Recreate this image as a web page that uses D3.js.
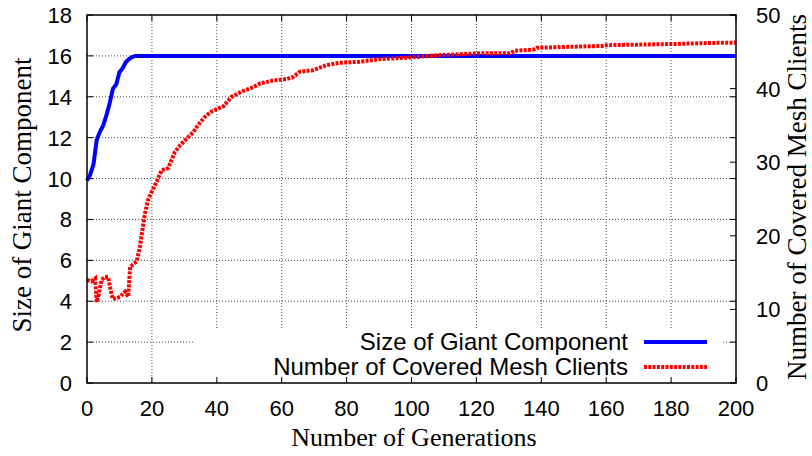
<!DOCTYPE html>
<html lang="en">
<head>
  <meta charset="UTF-8">
  <title>Giant Component vs Generations</title>
  <style>
    body { margin: 0; background: #fff; }
    svg { display: block; }
    .tick-label { font-family: 'Liberation Sans', Arial, sans-serif; font-size: 22px; fill: #000; }
    .axis-title { font-family: 'Liberation Serif', 'Times New Roman', serif; font-size: 27px; fill: #000; }
    .legend-text { font-family: 'Liberation Sans', Arial, sans-serif; font-size: 24px; fill: #000; }
    .grid line { stroke: #000; stroke-width: 1; stroke-dasharray: 1,2; opacity: 0.7; }
  </style>
</head>
<body>
<svg width="812" height="456"></svg>
<script src="https://cdn.jsdelivr.net/npm/d3@7"></script>
<script>

  // generation / value pairs
  var giantGen = [0, 1, 2, 3, 4, 5, 6, 7, 8, 9, 10, 11, 12, 13, 14, 15, 200];
  var giantSize = [9.9, 10.2, 10.7, 11.9, 12.3, 12.6, 13.1, 13.7, 14.4, 14.6, 15.2, 15.4, 15.7, 15.85, 15.95, 16, 16];

  var clientGen = [0, 1.4, 2.5, 3, 3.6, 4.5, 5.5, 6.5, 7.6, 8, 10.2, 11.7, 12.7, 13.3, 15.3, 16.3, 16.9, 17.9, 18.9,
    21.5, 23, 25, 27.1, 28.7, 30.7, 32.8, 34.3, 36.4, 38.4, 42, 44.6, 48.2, 51.3, 53.3, 57.4, 61.5, 63.6, 65.6,
    69.7, 73.9, 78, 84, 90.3, 100.6, 106.7, 116, 121, 130.3, 131.9, 137.6, 138.6, 159, 160.2, 179.7, 192, 200];
  var coveredClients = [14.0, 13.8, 14.2, 11.0, 12.0, 14.0, 14.4, 14.4, 12.0, 11.4, 11.7, 12.4, 11.7, 15.8, 16.5, 18.5, 20.3, 23.1, 25.0,
    27.4, 28.9, 29.2, 31.4, 32.3, 33.2, 34.1, 35.1, 36.2, 36.9, 37.6, 38.9, 39.7, 40.2, 40.7, 41.1, 41.3, 41.6, 42.3,
    42.5, 43.2, 43.5, 43.65, 44.0, 44.25, 44.5, 44.7, 44.8, 44.8, 45.15, 45.3, 45.55, 45.8, 45.9, 46.05, 46.2, 46.25];

  var xTicks = [0, 20, 40, 60, 80, 100, 120, 140, 160, 180, 200];
  var yTicks = [0, 2, 4, 6, 8, 10, 12, 14, 16, 18];
  var y2Ticks = [0, 10, 20, 30, 40, 50];

  var seriesNames = ["Size of Giant Component", "Number of Covered Mesh Clients"];
  var seriesColors = ["#0000ff", "#ff0000"];

  var LEFT = 87, RIGHT = 736, TOP = 15, BOTTOM = 383;
  var TICK = 6;

  var svg = d3.select("svg");

  var x = d3.scaleLinear().domain([0, 200]).range([LEFT, RIGHT]);
  var y = d3.scaleLinear().domain([0, 18]).range([BOTTOM, TOP]);
  var y2 = d3.scaleLinear().domain([0, 50]).range([BOTTOM, TOP]);

  // grid
  var grid = svg.append("g").classed("grid", true);
  grid.selectAll("line.v").data(xTicks.slice(1, -1)).enter().append("line")
    .attr("x1", function (d) { return x(d); })
    .attr("x2", function (d) { return x(d); })
    .attr("y1", TOP)
    .attr("y2", BOTTOM);
  grid.selectAll("line.h").data(yTicks.slice(1, -1)).enter().append("line")
    .attr("x1", LEFT)
    .attr("x2", RIGHT)
    .attr("y1", function (d) { return y(d); })
    .attr("y2", function (d) { return y(d); });

  // legend box hides the grid behind it
  svg.append("rect")
    .attr("x", 193).attr("y", 330)
    .attr("width", 529).attr("height", BOTTOM - 330)
    .attr("fill", "#fff");

  // ticks (inward, all sides)
  var ticks = svg.append("g").attr("stroke", "#000").attr("stroke-width", 1);
  xTicks.forEach(function (d) {
    ticks.append("line").attr("x1", x(d)).attr("x2", x(d)).attr("y1", BOTTOM).attr("y2", BOTTOM - TICK);
    ticks.append("line").attr("x1", x(d)).attr("x2", x(d)).attr("y1", TOP).attr("y2", TOP + TICK);
  });
  yTicks.forEach(function (d) {
    ticks.append("line").attr("x1", LEFT).attr("x2", LEFT + TICK).attr("y1", y(d)).attr("y2", y(d));
    ticks.append("line").attr("x1", RIGHT).attr("x2", RIGHT - TICK).attr("y1", y(d)).attr("y2", y(d));
  });
  y2Ticks.forEach(function (d) {
    ticks.append("line").attr("x1", RIGHT).attr("x2", RIGHT - TICK).attr("y1", y2(d)).attr("y2", y2(d));
  });

  // tick labels
  svg.append("g").selectAll("text").data(xTicks).enter().append("text")
    .classed("tick-label", true)
    .attr("x", function (d) { return x(d); })
    .attr("y", 416)
    .attr("text-anchor", "middle")
    .text(function (d) { return d; });
  svg.append("g").selectAll("text").data(yTicks).enter().append("text")
    .classed("tick-label", true)
    .attr("x", 72)
    .attr("y", function (d) { return y(d) + 8; })
    .attr("text-anchor", "end")
    .text(function (d) { return d; });
  svg.append("g").selectAll("text").data(y2Ticks).enter().append("text")
    .classed("tick-label", true)
    .attr("x", 756)
    .attr("y", function (d) { return y2(d) + 8; })
    .attr("text-anchor", "start")
    .text(function (d) { return d; });

  // axis titles
  svg.append("text").classed("axis-title", true)
    .attr("x", 414).attr("y", 446)
    .style("font-size", "26px")
    .attr("text-anchor", "middle")
    .text("Number of Generations");
  svg.append("text").classed("axis-title", true)
    .attr("transform", "translate(31,195) rotate(-90)")
    .attr("text-anchor", "middle")
    .text("Size of Giant Component");
  svg.append("text").classed("axis-title", true)
    .attr("transform", "translate(806,197) rotate(-90)")
    .attr("text-anchor", "middle")
    .text("Number of Covered Mesh Clients");

  // lines
  var giantLine = d3.line()
    .x(function (d, i) { return x(giantGen[i]); })
    .y(function (d) { return y(d); });
  var clientLine = d3.line()
    .x(function (d, i) { return x(clientGen[i]); })
    .y(function (d) { return y2(d); });

  svg.append("path")
    .attr("d", giantLine(giantSize))
    .attr("fill", "none")
    .attr("stroke", seriesColors[0])
    .attr("stroke-width", 4);

  svg.append("path")
    .attr("d", clientLine(coveredClients))
    .attr("fill", "none")
    .attr("stroke", seriesColors[1])
    .attr("stroke-width", 4)
    .attr("stroke-dasharray", "3,1.3");

  // legend
  var legend = svg.append("g");
  seriesNames.forEach(function (name, i) {
    var ly = 342 + i * 25;
    legend.append("text").classed("legend-text", true)
      .attr("x", 628).attr("y", ly + 8)
      .attr("text-anchor", "end")
      .text(name);
    legend.append("line")
      .attr("x1", 644).attr("x2", 707)
      .attr("y1", ly).attr("y2", ly)
      .attr("stroke", seriesColors[i])
      .attr("stroke-width", 4)
      .attr("stroke-dasharray", i === 1 ? "3,1.3" : null);
  });

  // frame
  svg.append("rect")
    .attr("x", LEFT).attr("y", TOP)
    .attr("width", RIGHT - LEFT).attr("height", BOTTOM - TOP)
    .attr("fill", "none")
    .attr("stroke", "#000")
    .attr("stroke-width", 1.5);

</script>
</body>
</html>
